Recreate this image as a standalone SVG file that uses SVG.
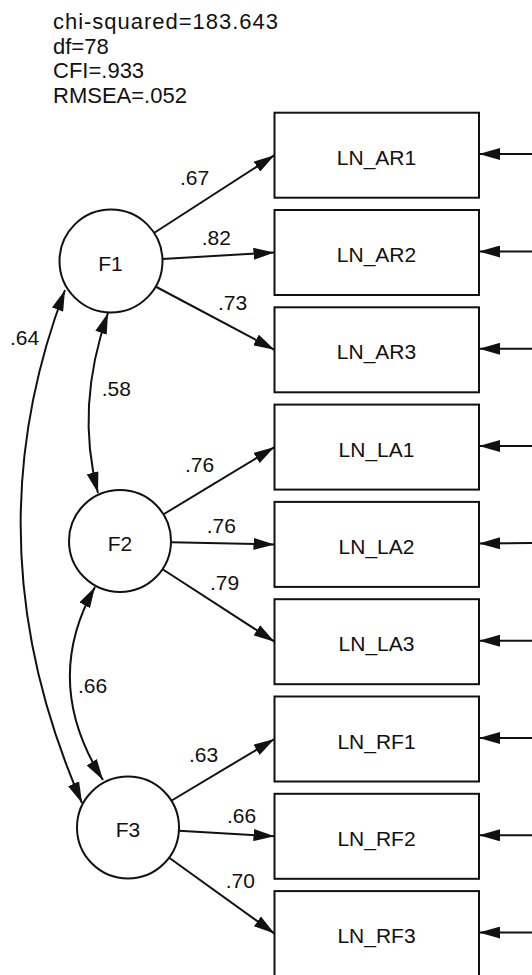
<svg xmlns="http://www.w3.org/2000/svg" width="532" height="975" viewBox="0 0 532 975">
<style>
text{font-family:"Liberation Sans",Arial,sans-serif;fill:#111;}
.stat{font-size:22px;}
.lbl{font-size:21px;}
.nt{font-size:21px;text-anchor:middle;}
.box{fill:#fff;stroke:#111;stroke-width:2;}
.lat{fill:#fff;stroke:#111;stroke-width:2;}
.c{fill:none;stroke:#111;stroke-width:2;}
.a{marker-end:url(#ah);}
.d{marker-start:url(#ahs);marker-end:url(#ah);}
</style>
<defs>
<marker id="ah" viewBox="0 0 21 12" refX="21" refY="6" markerWidth="21" markerHeight="12" markerUnits="userSpaceOnUse" orient="auto"><path d="M0,0 L21,6 L0,12 z" fill="#111"/></marker>
<marker id="ahs" viewBox="0 0 21 12" refX="21" refY="6" markerWidth="21" markerHeight="12" markerUnits="userSpaceOnUse" orient="auto-start-reverse"><path d="M0,0 L21,6 L0,12 z" fill="#111"/></marker>
</defs>
<rect width="532" height="975" fill="#fff"/>
<g id="fit">
<text class="stat" x="53" y="28.5" textLength="225" lengthAdjust="spacing">chi-squared=183.643</text>
<text class="stat" x="53" y="54">df=78</text>
<text class="stat" x="53" y="78.3">CFI=.933</text>
<text class="stat" x="53" y="103.3">RMSEA=.052</text>
</g>
<g id="connectors">
<line class="c a" x1="154" y1="233" x2="274.5" y2="155.2"/>
<line class="c a" x1="162" y1="259" x2="274.5" y2="252.5"/>
<line class="c a" x1="155.5" y1="286.5" x2="274.5" y2="349.8"/>
<line class="c a" x1="164" y1="514" x2="274.5" y2="447.1"/>
<line class="c a" x1="171" y1="542.2" x2="274.5" y2="544.4"/>
<line class="c a" x1="163" y1="569.5" x2="274.5" y2="641.7"/>
<line class="c a" x1="171.7" y1="800.5" x2="274.5" y2="739"/>
<line class="c a" x1="179" y1="830.7" x2="274.5" y2="836.3"/>
<line class="c a" x1="169.5" y1="858" x2="274.5" y2="933.6"/>
<path class="c d" d="M65,290 Q-31.5,543.5 82,803"/>
<path class="c d" d="M108,313 Q75,407 98,493"/>
<path class="c d" d="M95,587 Q41,682.5 103,780"/>
<line class="c a" x1="534" y1="154" x2="479" y2="154"/>
<line class="c a" x1="534" y1="251.5" x2="479" y2="251.5"/>
<line class="c a" x1="534" y1="348.8" x2="479" y2="348.8"/>
<line class="c a" x1="534" y1="446" x2="479" y2="446"/>
<line class="c a" x1="534" y1="543" x2="479" y2="543.4"/>
<line class="c a" x1="534" y1="640.7" x2="479" y2="640.7"/>
<line class="c a" x1="534" y1="738" x2="479" y2="738"/>
<line class="c a" x1="534" y1="835.3" x2="479" y2="835.3"/>
<line class="c a" x1="534" y1="932.6" x2="479" y2="932.6"/>
<text class="lbl" x="180" y="185">.67</text>
<text class="lbl" x="201.7" y="245">.82</text>
<text class="lbl" x="218" y="310">.73</text>
<text class="lbl" x="10" y="345">.64</text>
<text class="lbl" x="101.7" y="396">.58</text>
<text class="lbl" x="185" y="472">.76</text>
<text class="lbl" x="206.7" y="533">.76</text>
<text class="lbl" x="210" y="590">.79</text>
<text class="lbl" x="78" y="693">.66</text>
<text class="lbl" x="189" y="762">.63</text>
<text class="lbl" x="227" y="823">.66</text>
<text class="lbl" x="225.7" y="888">.70</text>
</g>
<g id="F1"><circle class="lat" cx="111" cy="261" r="51.5"/><text class="nt" x="110.5" y="270.5">F1</text></g>
<g id="F2"><circle class="lat" cx="120" cy="541" r="51"/><text class="nt" x="120" y="550.5">F2</text></g>
<g id="F3"><circle class="lat" cx="128" cy="827.5" r="51"/><text class="nt" x="128" y="837">F3</text></g>
<g id="LN_AR1"><rect class="box" x="274.5" y="112.7" width="204.5" height="85"/><text class="nt" x="376.5" y="164.7">LN_AR1</text></g>
<g id="LN_AR2"><rect class="box" x="274.5" y="210" width="204.5" height="85"/><text class="nt" x="376.5" y="262">LN_AR2</text></g>
<g id="LN_AR3"><rect class="box" x="274.5" y="307.3" width="204.5" height="85"/><text class="nt" x="376.5" y="359.3">LN_AR3</text></g>
<g id="LN_LA1"><rect class="box" x="274.5" y="404.6" width="204.5" height="85"/><text class="nt" x="376.5" y="456.6">LN_LA1</text></g>
<g id="LN_LA2"><rect class="box" x="274.5" y="501.9" width="204.5" height="85"/><text class="nt" x="376.5" y="553.9">LN_LA2</text></g>
<g id="LN_LA3"><rect class="box" x="274.5" y="599.2" width="204.5" height="85"/><text class="nt" x="376.5" y="651.2">LN_LA3</text></g>
<g id="LN_RF1"><rect class="box" x="274.5" y="696.5" width="204.5" height="85"/><text class="nt" x="376.5" y="748.5">LN_RF1</text></g>
<g id="LN_RF2"><rect class="box" x="274.5" y="793.8" width="204.5" height="85"/><text class="nt" x="376.5" y="845.8">LN_RF2</text></g>
<g id="LN_RF3"><rect class="box" x="274.5" y="891.1" width="204.5" height="85"/><text class="nt" x="376.5" y="943.1">LN_RF3</text></g>
</svg>
